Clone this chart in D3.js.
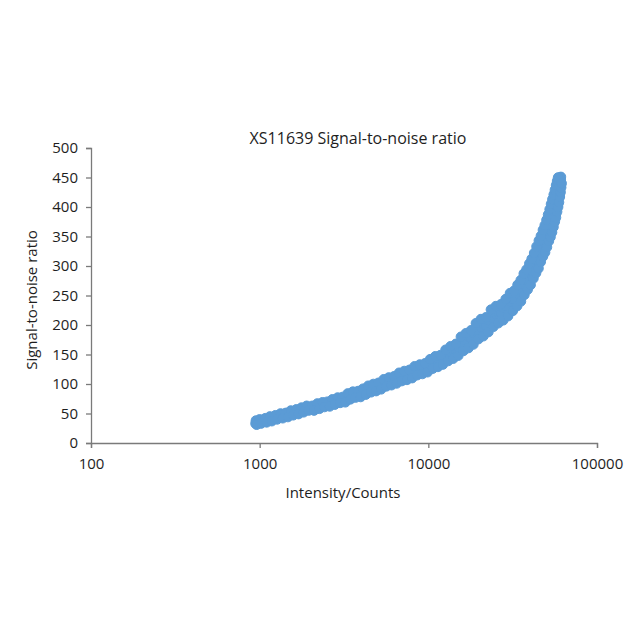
<!DOCTYPE html>
<html><head><meta charset="utf-8">
<script src="https://cdn.jsdelivr.net/npm/d3@7"></script>
<style>body{margin:0;background:#fff}text{font-family:"Open Sans","Noto Sans",sans-serif;fill:#1e1e1e}</style>
</head><body><svg id="c" width="640" height="640"></svg>
<script>
const title = "XS11639 Signal-to-noise ratio";
const xTitle = "Intensity/Counts";
const yTitle = "Signal-to-noise ratio";
const xTicks = [100, 1000, 10000, 100000];
const yTicks = [0, 50, 100, 150, 200, 250, 300, 350, 400, 450, 500];
// central run of readings
const intensity = [945,960,975,990,1010,1030,1060,1090,1120,1150,1190,1230,1270,1310,1350,1400,1450,1500,1550,1600,1660,1720,1780,1840,1900,1970,2040,2110,2180,2260,2340,2420,2500,2590,2680,2780,2880,2980,3090,3200,3320,3440,3560,3690,3820,3960,4100,4250,4400,4560,4720,4890,5070,5250,5440,5630,5830,6040,6260,6480,6710,6950,7200,7460,7730,8000,8290,8590,8900,9220,9550,9890,10250,10620,11000,11400,11800,12200,12650,13100,13550,14050,14550,15050,15600,16150,16700,17300,17900,18500,19150,19800,20500,21200,21950,22700,23500,24300,25150,26000,26900,27800,28750,29700,30700,31700,32700,33700,34700,35700,36700,37700,38700,39700,40700,41700,42700,43700,44700,45700,46700,47700,48700,49600,50500,51300,52100,52900,53700,54400,55100,55800,56500,57100,57700,58200,58700,59200,59600,60000,60300,60600,60800,61000,61100];
const snr = [33,36,34,37,35,38,37,40,39,41,43,42,45,44,47,46,49,51,50,53,52,55,57,56,59,60,58,62,63,61,65,66,64,68,70,69,72,74,73,77,79,78,82,84,83,87,86,90,92,91,95,97,96,100,102,101,105,107,106,110,112,111,115,117,116,120,122,121,125,127,126,131,133,132,137,140,139,145,147,146,153,157,156,163,168,167,174,180,178,186,190,189,197,201,200,208,213,211,219,222,221,229,232,231,240,244,243,253,260,258,270,277,276,287,293,291,303,310,308,321,328,326,337,343,341,352,358,356,367,374,372,383,390,388,399,406,404,415,422,420,431,438,436,446,451];
// upper-edge readings
const intensityHi = [950,1000,1080,1150,1240,1330,1430,1530,1650,1770,1900,2050,2200,2360,2520,2700,2900,3100,3330,3570,3830,4100,4400,4720,5060,5440,5830,6260,6710,7200,7730,8290,8900,9550,10250,11000,11800,12650,13550,14550,15600,16700,17900,19150,20500,21950,23500,25150,26900,28750,30500,32200,33800,35300,36800,38200,39700,41000,42400,43800,45200,46500,47800,49000,50200,51300,52400,53400,54400,55400,56300,57200,58000,58800];
const snrHi = [38,40,42,45,47,50,51,55,57,60,63,63,67,69,70,74,77,78,84,87,88,92,97,100,102,108,111,113,119,122,124,130,133,135,142,147,149,158,164,168,180,186,191,203,210,213,226,232,235,244,254,258,268,276,287,294,304,312,322,333,343,351,361,369,378,387,396,405,413,421,429,437,444,450];
// lower-edge readings
const intensityLo = [960,1020,1100,1180,1270,1370,1470,1580,1700,1820,1950,2100,2260,2420,2600,2790,3000,3220,3450,3700,3970,4260,4570,4900,5250,5640,6050,6490,6960,7470,8020,8600,9230,9900,10620,11400,12200,13100,14050,15050,16150,17300,18500,19800,21200,22700,24300,26000,27800,29700,31700,33600,35400,37100,38800,40400,42000,43500,45000,46400,47800,49200,50500,51800,53000,54100,55200,56200,57100,58000,58800,59500,60200,60800,61300,61700];
const snrLo = [31,33,35,37,40,42,44,47,49,52,55,55,58,61,62,65,68,69,74,77,78,82,86,88,91,96,98,101,105,107,110,115,117,120,126,129,133,139,143,148,156,161,167,176,181,188,197,203,208,215,224,232,240,251,260,268,279,288,296,307,316,323,332,342,349,357,366,375,382,392,400,408,417,425,433,440];

const svg = d3.select("#c");
const x = d3.scaleLog().domain([100, 100000]).range([91, 597]);
const y = d3.scaleLinear().domain([0, 500]).range([443, 148]);
const axisColor = "#7a7a7a";

const ya = svg.append("g").attr("transform", "translate(91,0)")
  .call(d3.axisLeft(y).tickValues(yTicks).tickSize(5).tickPadding(8));
const xa = svg.append("g").attr("transform", "translate(0,443)")
  .call(d3.axisBottom(x).tickValues(xTicks).tickFormat(d3.format("d")).tickSize(5).tickPadding(10));
[ya, xa].forEach(g => {
  g.selectAll("path,line").attr("stroke", axisColor).attr("stroke-width", 1.3);
  g.selectAll("text").style("font-size", "15px").attr("fill", "#1e1e1e");
});

const pts = intensity.map((v, i) => [v, snr[i]])
  .concat(intensityHi.map((v, i) => [v, snrHi[i]]))
  .concat(intensityLo.map((v, i) => [v, snrLo[i]]));
svg.append("g").selectAll("circle").data(pts).join("circle")
  .attr("cx", d => x(d[0])).attr("cy", d => y(d[1])).attr("r", 4.8)
  .attr("fill", "#5b9bd5").attr("stroke", "#5b9bd5").attr("stroke-width", 1);

svg.append("text").attr("x", 358).attr("y", 144).attr("text-anchor", "middle")
  .style("font-size", "16px").text(title);
svg.append("text").attr("x", 343).attr("y", 498).attr("text-anchor", "middle")
  .style("font-size", "15px").text(xTitle);
svg.append("text").attr("transform", "translate(37,300) rotate(-90)").attr("text-anchor", "middle")
  .style("font-size", "15px").text(yTitle);
</script></body></html>
